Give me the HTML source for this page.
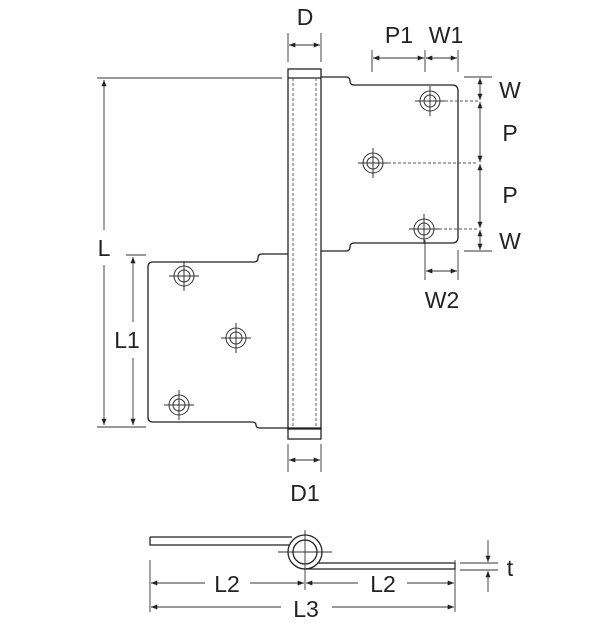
<!DOCTYPE html>
<html><head><style>body{margin:0;background:#fff}svg{display:block}text{font-family:"Liberation Sans",sans-serif;font-size:23px;fill:#222}</style></head><body>
<svg width="600" height="623" viewBox="0 0 600 623" xmlns="http://www.w3.org/2000/svg">
<defs>
<marker id="a" viewBox="0 0 10 10" refX="10" refY="5" markerWidth="7" markerHeight="7" orient="auto-start-reverse"><path d="M0,1 L10,5 L0,9 Z" fill="#222"/></marker>
<g id="hole" fill="none" stroke="#333" stroke-width="1"><circle r="10"/><circle r="6"/><line x1="-15" y1="0" x2="15" y2="0"/><line x1="0" y1="-15" x2="0" y2="15"/></g>
</defs>
<g fill="none" stroke="#222" stroke-width="1.3">
<path d="M321,77 H346 Q350,77 350,81 Q350,85 354,85 H452 Q458,85 458,91 V237 Q458,243 452,243 H354 Q350,243 350,247 Q350,251 346,251 H321"/>
<path d="M288,254 H262 Q258,254 258,258 Q258,262 254,262 H153 Q148,262 148,267 V417 Q148,422 153,422 H252 Q256,422 256,425 Q256,428 260,428 H288"/>
<rect x="288" y="69" width="33" height="360"/>
<line x1="288" y1="78" x2="321" y2="78"/>
<rect x="288" y="428" width="33" height="11"/>
</g>
<g stroke="#555" stroke-width="0.9" stroke-dasharray="3,2">
<line x1="293" y1="78" x2="293" y2="428"/><line x1="316" y1="78" x2="316" y2="428"/>
<line x1="440" y1="101" x2="478" y2="101"/><line x1="383" y1="163" x2="478" y2="163"/><line x1="434" y1="229" x2="478" y2="229"/>
</g>
<use href="#hole" x="430" y="101"/><use href="#hole" x="373" y="163"/><use href="#hole" x="424" y="229"/>
<use href="#hole" x="184" y="276"/><use href="#hole" x="236" y="338"/><use href="#hole" x="179" y="405"/>
<g stroke="#333" stroke-width="0.9" fill="none">
<line x1="97" y1="78" x2="282" y2="78"/><line x1="97" y1="427" x2="146" y2="427"/>
<line x1="104" y1="80" x2="104" y2="230" marker-start="url(#a)"/><line x1="104" y1="265" x2="104" y2="425" marker-end="url(#a)"/>
<line x1="126" y1="255" x2="146" y2="255"/>
<line x1="133" y1="257" x2="133" y2="322" marker-start="url(#a)"/><line x1="133" y1="358" x2="133" y2="425" marker-end="url(#a)"/>
<line x1="288" y1="33" x2="288" y2="62"/><line x1="321" y1="33" x2="321" y2="62"/>
<line x1="289" y1="45" x2="320" y2="45" marker-start="url(#a)" marker-end="url(#a)"/>
<line x1="372" y1="50" x2="372" y2="72"/><line x1="425" y1="50" x2="425" y2="72"/><line x1="458" y1="50" x2="458" y2="72"/>
<line x1="373" y1="58" x2="424" y2="58" marker-start="url(#a)" marker-end="url(#a)"/>
<line x1="426" y1="58" x2="457" y2="58" marker-start="url(#a)" marker-end="url(#a)"/>
<line x1="464" y1="77" x2="492" y2="77"/><line x1="464" y1="251" x2="492" y2="251"/>
<line x1="480" y1="78" x2="480" y2="100" marker-start="url(#a)" marker-end="url(#a)"/>
<line x1="480" y1="102" x2="480" y2="162" marker-start="url(#a)" marker-end="url(#a)"/>
<line x1="480" y1="164" x2="480" y2="228" marker-start="url(#a)" marker-end="url(#a)"/>
<line x1="480" y1="230" x2="480" y2="250" marker-start="url(#a)" marker-end="url(#a)"/>
<line x1="425" y1="240" x2="425" y2="280"/><line x1="458" y1="250" x2="458" y2="280"/>
<line x1="426" y1="271" x2="457" y2="271" marker-start="url(#a)" marker-end="url(#a)"/>
<line x1="288" y1="444" x2="288" y2="472"/><line x1="321" y1="444" x2="321" y2="472"/>
<line x1="289" y1="460" x2="320" y2="460" marker-start="url(#a)" marker-end="url(#a)"/>
</g>
<g fill="none" stroke="#222" stroke-width="1.3">
<path d="M150,537 H292 M150,537 V545 H290"/>
<circle cx="305" cy="552" r="17"/><circle cx="305" cy="552" r="12"/>
<path d="M305,569 H455 V563 H318"/>
</g>
<g stroke="#333" stroke-width="0.9" fill="none">
<line x1="278" y1="552" x2="332" y2="552"/><line x1="305" y1="530" x2="305" y2="590"/>
<line x1="150" y1="560" x2="150" y2="612"/><line x1="455" y1="560" x2="455" y2="612"/>
<line x1="151" y1="583" x2="205" y2="583" marker-start="url(#a)"/><line x1="250" y1="583" x2="304" y2="583" marker-end="url(#a)"/>
<line x1="306" y1="583" x2="358" y2="583" marker-start="url(#a)"/><line x1="407" y1="583" x2="454" y2="583" marker-end="url(#a)"/>
<line x1="151" y1="607" x2="281" y2="607" marker-start="url(#a)"/><line x1="332" y1="607" x2="454" y2="607" marker-end="url(#a)"/>
<line x1="460" y1="563" x2="498" y2="563"/><line x1="460" y1="570" x2="498" y2="570"/>
<line x1="488" y1="540" x2="488" y2="562" marker-end="url(#a)"/><line x1="488" y1="592" x2="488" y2="571" marker-end="url(#a)"/>
</g>
<g text-anchor="middle">
<text x="305" y="25">D</text>
<text x="399" y="43">P1</text><text x="446" y="43">W1</text>
<text x="510" y="98">W</text><text x="510" y="141">P</text><text x="510" y="203">P</text><text x="510" y="249">W</text>
<text x="442" y="308">W2</text>
<text x="104" y="256">L</text><text x="127" y="348">L1</text>
<text x="305" y="501">D1</text>
<text x="227" y="592">L2</text><text x="383" y="592">L2</text><text x="306" y="617">L3</text>
<text x="510" y="576">t</text>
</g>
</svg>
</body></html>
